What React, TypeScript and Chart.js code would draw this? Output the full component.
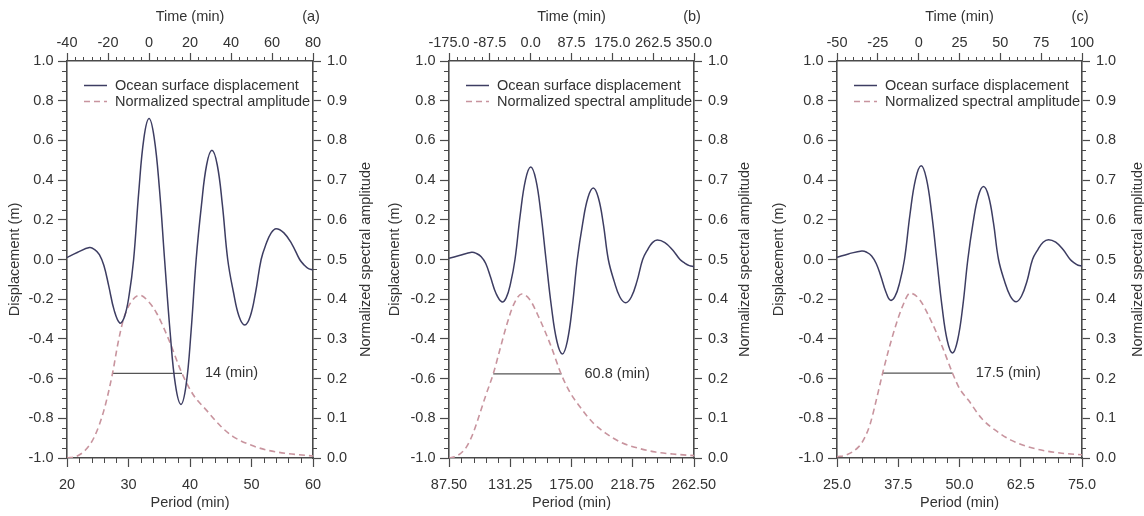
import React, { useEffect, useRef } from 'react';
import { Chart, registerables } from 'chart.js';

Chart.register(...registerables);

const FONT = "'Liberation Sans', Arial, Helvetica, sans-serif";
const FONT_SIZE = 14.5;
const AXIS = '#4a4a4a';
const TEXT = '#333333';
const DISP_COLOR = '#3d3d62';
const AMP_COLOR = 'rgb(200,148,158)';
const MARK_COLOR = '#555555';

// ---------- shared tick labels ----------
const dispTicks = [-1, -0.8, -0.6, -0.4, -0.2, 0, 0.2, 0.4, 0.6, 0.8, 1];
const ampTicks = [0, 0.1, 0.2, 0.3, 0.4, 0.5, 0.6, 0.7, 0.8, 0.9, 1];

// ---------- panel (a) ----------
const timeTicksA = [-40, -20, 0, 20, 40, 60, 80];
const periodTicksA = [20, 30, 40, 50, 60];
const timeA = [-40, -35, -29, -26.5, -24.2, -22, -19.7, -17, -14.2, -12.0, -9.7, -7.5, -5.0, -2.5, 0, 2.5, 5.1, 7.6, 10.3, 12.9, 15.6, 18.1, 20.5, 23, 25.6, 28.1, 30.7, 33.3, 35.8, 38.4, 41.2, 43.9, 46.7, 49.4, 52.0, 54.7, 57.1, 59.6, 62, 65.8, 69.7, 73.5, 75.6, 77.8, 80];
const dispA = [0.01, 0.035, 0.06, 0.05, 0.025, -0.03, -0.13, -0.255, -0.32, -0.29, -0.18, 0, 0.34, 0.61, 0.71, 0.615, 0.355, 0, -0.365, -0.632, -0.73, -0.632, -0.365, 0, 0.275, 0.476, 0.55, 0.476, 0.275, 0, -0.165, -0.286, -0.33, -0.286, -0.165, 0, 0.078, 0.134, 0.155, 0.134, 0.078, 0, -0.027, -0.046, -0.053];
const periodA = [20, 21.5, 23, 24.5, 26, 27.4, 28.3, 29.2, 30.3, 31.8, 33.2, 34.6, 36.5, 38.7, 40.5, 42.7, 45, 47, 50, 52.5, 56, 60];
const ampA = [0.0, 0.004, 0.02, 0.055, 0.12, 0.213, 0.29, 0.35, 0.39, 0.41, 0.395, 0.364, 0.3, 0.213, 0.16, 0.12, 0.08, 0.054, 0.032, 0.02, 0.011, 0.005];
const widthPeriodsA = [27.4, 38.7];
const widthLevelA = 0.213;
const widthLabelA = '14 (min)';

// ---------- panel (b) ----------
const timeTicksB = [-175, -87.5, 0, 87.5, 175, 262.5, 350];
const periodTicksB = [87.5, 131.25, 175, 218.75, 262.5];
const timeB = [-175, -153, -126.4, -116, -106, -96.3, -86.2, -74.4, -62, -52.5, -43.1, -33.6, -22.4, -11.2, 0, 11, 21.9, 32.9, 44.5, 56.2, 67.8, 78.5, 89.2, 99.9, 111.3, 122.8, 134.2, 144.9, 155.7, 166.4, 178.8, 191.2, 203.6, 215.7, 227.9, 240, 250.5, 260.9, 271.4, 287.6, 303.8, 320, 330, 340, 350];
const dispB = [0.006, 0.02, 0.036, 0.03, 0.014, -0.02, -0.087, -0.17, -0.213, -0.193, -0.12, 0, 0.225, 0.4, 0.466, 0.404, 0.233, 0, -0.238, -0.412, -0.476, -0.412, -0.238, 0, 0.18, 0.312, 0.36, 0.312, 0.18, 0, -0.109, -0.189, -0.218, -0.189, -0.109, 0, 0.049, 0.085, 0.098, 0.085, 0.049, 0, -0.018, -0.031, -0.036];
const periodB = [87.5, 93, 100, 105, 109.6, 114, 119.1, 124, 128.7, 133.5, 139.4, 145, 152.5, 160, 167.9, 174, 181, 190, 199.6, 210, 223.4, 235, 247.2, 262.5];
const ampB = [0.0, 0.005, 0.028, 0.065, 0.113, 0.16, 0.212, 0.275, 0.335, 0.385, 0.413, 0.4, 0.348, 0.285, 0.209, 0.165, 0.129, 0.09, 0.062, 0.04, 0.024, 0.015, 0.01, 0.006];
const widthPeriodsB = [119.1, 167.9];
const widthLevelB = 0.212;
const widthLabelB = '60.8 (min)';

// ---------- panel (c) ----------
const timeTicksC = [-50, -25, 0, 25, 50, 75, 100];
const periodTicksC = [25, 37.5, 50, 62.5, 75];
const timeC = [-50, -43, -34.8, -31.7, -28.8, -26, -23.2, -20, -17.4, -14.5, -11.6, -8.7, -5.3, -1.9, 1.5, 4.7, 7.9, 11.1, 14.3, 17.5, 20.7, 23.8, 27, 30.1, 33.3, 36.5, 39.7, 42.8, 45.8, 48.9, 52.5, 56.1, 59.7, 63, 66.4, 69.7, 73, 76.2, 79.5, 83.9, 88.4, 92.8, 95.2, 97.6, 100];
const dispC = [0.011, 0.028, 0.043, 0.036, 0.018, -0.02, -0.083, -0.165, -0.205, -0.186, -0.115, 0, 0.228, 0.405, 0.472, 0.409, 0.236, 0, -0.236, -0.408, -0.471, -0.408, -0.236, 0, 0.184, 0.319, 0.368, 0.319, 0.184, 0, -0.107, -0.184, -0.213, -0.184, -0.107, 0, 0.05, 0.087, 0.1, 0.087, 0.05, 0, -0.017, -0.029, -0.033];
const periodC = [25, 27, 29.4, 30.6, 31.8, 33, 34.3, 35.6, 36.9, 38.3, 39.9, 41.8, 44.3, 46.5, 48.6, 50, 51.8, 54.5, 57.3, 60.5, 64.1, 67.5, 70.9, 75];
const ampC = [0.003, 0.008, 0.028, 0.05, 0.087, 0.145, 0.213, 0.275, 0.33, 0.38, 0.415, 0.4, 0.343, 0.28, 0.213, 0.175, 0.146, 0.1, 0.07, 0.045, 0.028, 0.018, 0.012, 0.008];
const widthPeriodsC = [34.3, 48.6];
const widthLevelC = 0.214;
const widthLabelC = '17.5 (min)';

const HEIGHT = 516;
const PLOT_TOP = 61;
const PLOT_BOTTOM = 458;

const panels = [
  { id: 'a', letter: '(a)', left: 0, width: 380, plotLeft: 67, plotRight: 313, rightTitleX: 53,
    time: timeA, disp: dispA, period: periodA, amp: ampA, timeTicks: timeTicksA, periodTicks: periodTicksA,
    timeDigits: 0, periodDigits: 0, widthPeriods: widthPeriodsA, widthLevel: widthLevelA, widthLabel: widthLabelA },
  { id: 'b', letter: '(b)', left: 380, width: 384, plotLeft: 69, plotRight: 314, rightTitleX: 51,
    time: timeB, disp: dispB, period: periodB, amp: ampB, timeTicks: timeTicksB, periodTicks: periodTicksB,
    timeDigits: 1, periodDigits: 2, widthPeriods: widthPeriodsB, widthLevel: widthLevelB, widthLabel: widthLabelB },
  { id: 'c', letter: '(c)', left: 764, width: 380, plotLeft: 73, plotRight: 318, rightTitleX: 56,
    time: timeC, disp: dispC, period: periodC, amp: ampC, timeTicks: timeTicksC, periodTicks: periodTicksC,
    timeDigits: 0, periodDigits: 1, widthPeriods: widthPeriodsC, widthLevel: widthLevelC, widthLabel: widthLabelC },
];

const font = { family: FONT, size: FONT_SIZE };

function decorPlugin(p: any) {
  return {
    id: 'decor_' + p.id,
    afterDraw(chart: any) {
      const { ctx, chartArea: ca, scales } = chart;
      ctx.save();
      const minor = (s: any, n: number, len: number, side: string) => {
        const vals = s.ticks.map((t: any) => t.value);
        ctx.strokeStyle = AXIS;
        ctx.lineWidth = 1;
        ctx.beginPath();
        for (let i = 0; i < vals.length - 1; i++) {
          for (let k = 1; k < n; k++) {
            const v = vals[i] + ((vals[i + 1] - vals[i]) * k) / n;
            const px = Math.round(s.getPixelForValue(v)) + 0.5;
            if (side === 'top') { ctx.moveTo(px, ca.top); ctx.lineTo(px, ca.top - len); }
            else if (side === 'bottom') { ctx.moveTo(px, ca.bottom); ctx.lineTo(px, ca.bottom + len); }
            else if (side === 'left') { ctx.moveTo(ca.left, px); ctx.lineTo(ca.left - len, px); }
            else { ctx.moveTo(ca.right, px); ctx.lineTo(ca.right + len, px); }
          }
        }
        ctx.stroke();
      };
      minor(scales.xTop, 5, 4, 'top');
      minor(scales.xBottom, 5, 5, 'bottom');
      minor(scales.yLeft, 4, 5, 'left');
      minor(scales.yRight, 4, 4, 'right');

      // legend inside the plot
      const ds = chart.data.datasets;
      ctx.font = `${FONT_SIZE}px ${FONT}`;
      ctx.textBaseline = 'middle';
      ctx.textAlign = 'left';
      [0, 1].forEach((i, row) => {
        const y = Math.round(ca.top + 23.5 + row * 16.5) + 0.5;
        ctx.strokeStyle = ds[i].borderColor;
        ctx.lineWidth = ds[i].borderWidth;
        ctx.setLineDash(ds[i].borderDash || []);
        ctx.beginPath();
        ctx.moveTo(ca.left + 17, y);
        ctx.lineTo(ca.left + 40, y);
        ctx.stroke();
        ctx.setLineDash([]);
        ctx.fillStyle = TEXT;
        ctx.fillText(ds[i].label, ca.left + 48, y);
      });

      // width label
      const xb = scales.xBottom;
      const yr = scales.yRight;
      ctx.fillStyle = TEXT;
      ctx.fillText(p.widthLabel, xb.getPixelForValue(p.widthPeriods[1]) + 23, yr.getPixelForValue(p.widthLevel));

      // right axis title (reads bottom to top)
      ctx.save();
      ctx.translate(ca.right + p.rightTitleX, (ca.top + ca.bottom) / 2);
      ctx.rotate(-Math.PI / 2);
      ctx.textAlign = 'center';
      ctx.fillText('Normalized spectral amplitude', 0, 0);
      ctx.restore();

      // panel letter
      ctx.textAlign = 'center';
      ctx.fillText(p.letter, ca.right - 2, 17);
      ctx.restore();
    },
  };
}

function makeConfig(p: any): any {
  const fmt = (d: number) => (v: any) => Number(v).toFixed(d);
  return {
    type: 'line',
    data: {
      datasets: [
        {
          label: 'Ocean surface displacement',
          data: p.time.map((t: number, i: number) => ({ x: t, y: p.disp[i] })),
          xAxisID: 'xTop', yAxisID: 'yLeft',
          borderColor: DISP_COLOR, borderWidth: 1.5, pointRadius: 0,
          tension: 0.4, fill: false, order: 0,
        },
        {
          label: 'Normalized spectral amplitude',
          data: p.period.map((t: number, i: number) => ({ x: t, y: p.amp[i] })),
          xAxisID: 'xBottom', yAxisID: 'yRight',
          borderColor: AMP_COLOR, borderWidth: 1.6, borderDash: [6, 4], pointRadius: 0,
          cubicInterpolationMode: 'monotone', fill: false, order: 1,
        },
        {
          label: 'width',
          data: p.widthPeriods.map((x: number) => ({ x, y: p.widthLevel })),
          xAxisID: 'xBottom', yAxisID: 'yRight',
          borderColor: MARK_COLOR, borderWidth: 1.3, pointRadius: 0, tension: 0, fill: false, order: 2,
        },
      ],
    },
    options: {
      animation: false,
      responsive: false,
      devicePixelRatio: 1,
      events: [],
      layout: { padding: 0 },
      plugins: { legend: { display: false }, tooltip: { enabled: false }, title: { display: false } },
      scales: {
        xTop: {
          type: 'linear', position: 'top', axis: 'x',
          min: p.timeTicks[0], max: p.timeTicks[p.timeTicks.length - 1],
          afterBuildTicks: (s: any) => { s.ticks = p.timeTicks.map((v: number) => ({ value: v })); },
          afterFit: (s: any) => { s.height = PLOT_TOP; },
          ticks: { callback: fmt(p.timeDigits), font, color: TEXT, padding: 1, maxRotation: 0, autoSkip: false },
          grid: { drawOnChartArea: false, drawTicks: true, tickLength: 8, tickColor: AXIS, tickWidth: 1.2 },
          border: { display: true, color: AXIS, width: 1.6 },
          title: { display: true, text: 'Time (min)', font, color: TEXT, padding: { top: 8, bottom: 0 } },
        },
        xBottom: {
          type: 'linear', position: 'bottom', axis: 'x',
          min: p.periodTicks[0], max: p.periodTicks[p.periodTicks.length - 1],
          afterBuildTicks: (s: any) => { s.ticks = p.periodTicks.map((v: number) => ({ value: v })); },
          afterFit: (s: any) => { s.height = HEIGHT - PLOT_BOTTOM; },
          ticks: { callback: fmt(p.periodDigits), font, color: TEXT, padding: 9, maxRotation: 0, autoSkip: false },
          grid: { drawOnChartArea: false, drawTicks: true, tickLength: 9, tickColor: AXIS, tickWidth: 1.2 },
          border: { display: true, color: AXIS, width: 1.6 },
          title: { display: true, text: 'Period (min)', font, color: TEXT, padding: { top: 0, bottom: 4 } },
        },
        yLeft: {
          type: 'linear', position: 'left', axis: 'y', min: -1, max: 1,
          afterBuildTicks: (s: any) => { s.ticks = dispTicks.map((v) => ({ value: v })); },
          afterFit: (s: any) => { s.width = p.plotLeft; },
          ticks: { callback: fmt(1), font, color: TEXT, padding: 4.5, autoSkip: false },
          grid: { drawOnChartArea: false, drawTicks: true, tickLength: 9, tickColor: AXIS, tickWidth: 1.2 },
          border: { display: true, color: AXIS, width: 1.6 },
          title: { display: true, text: 'Displacement (m)', font, color: TEXT, padding: { top: 6, bottom: 0 } },
        },
        yRight: {
          type: 'linear', position: 'right', axis: 'y', min: 0, max: 1,
          afterBuildTicks: (s: any) => { s.ticks = ampTicks.map((v) => ({ value: v })); },
          afterFit: (s: any) => { s.width = p.width - p.plotRight; },
          ticks: { callback: fmt(1), font, color: TEXT, padding: 6, autoSkip: false },
          grid: { drawOnChartArea: false, drawTicks: true, tickLength: 8, tickColor: AXIS, tickWidth: 1.2 },
          border: { display: true, color: AXIS, width: 1.6 },
          title: { display: false },
        },
      },
    },
    plugins: [decorPlugin(p)],
  };
}

function Panel({ p }: { p: any }) {
  const ref = useRef<HTMLCanvasElement | null>(null);
  useEffect(() => {
    if (!ref.current) return;
    const chart = new Chart(ref.current, makeConfig(p));
    return () => chart.destroy();
  }, [p]);
  return (
    <canvas
      ref={ref}
      width={p.width}
      height={HEIGHT}
      style={{ position: 'absolute', left: p.left, top: 0, width: p.width, height: HEIGHT, display: 'block' }}
    />
  );
}

export default function App() {
  return (
    <div style={{ position: 'fixed', left: 0, top: 0, width: 1144, height: HEIGHT, background: '#ffffff', overflow: 'hidden' }}>
      {panels.map((p) => (
        <Panel key={p.id} p={p} />
      ))}
    </div>
  );
}
